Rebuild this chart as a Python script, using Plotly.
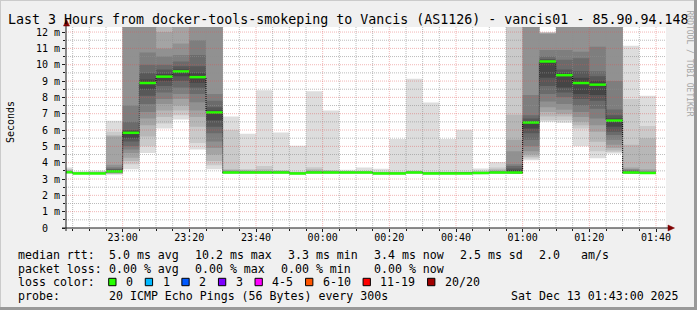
import plotly.graph_objects as go
from datetime import datetime, timedelta

# ---------------- data ----------------
bin_times = ["22:40", "22:45", "22:50", "22:55", "23:00", "23:05", "23:10", "23:15", "23:20",
             "23:25", "23:30", "23:35", "23:40", "23:45", "23:50", "23:55", "00:00", "00:05",
             "00:10", "00:15", "00:20", "00:25", "00:30", "00:35", "00:40", "00:45", "00:50",
             "00:55", "01:00", "01:05", "01:10", "01:15", "01:20", "01:25", "01:30", "01:35"]

median_ms = [3.42, 3.34, 3.34, 3.47, 5.83, 8.88, 9.27, 9.59, 9.24,
             7.08, 3.40, 3.40, 3.40, 3.40, 3.34, 3.40, 3.40, 3.40,
             3.40, 3.34, 3.34, 3.40, 3.34, 3.34, 3.34, 3.37, 3.40,
             3.40, 6.46, 10.20, 9.36, 8.88, 8.78, 6.58, 3.40, 3.37]

# 20 sorted ping round-trip times per 5-minute step (ms)
pings_ms = [
    [3.33, 3.35, 3.37, 3.38, 3.39, 3.40, 3.40, 3.41, 3.41, 3.42, 3.42, 3.43, 3.44, 3.45, 3.46, 3.48, 3.50, 3.55, 3.62, 3.70],
    [3.28, 3.29, 3.30, 3.31, 3.31, 3.32, 3.32, 3.33, 3.33, 3.34, 3.34, 3.35, 3.35, 3.36, 3.37, 3.38, 3.39, 3.41, 3.43, 3.46],
    [3.28, 3.29, 3.30, 3.31, 3.31, 3.32, 3.32, 3.33, 3.33, 3.34, 3.34, 3.35, 3.36, 3.37, 3.38, 3.40, 3.42, 3.44, 3.46, 3.52],
    [3.26, 3.30, 3.33, 3.36, 3.38, 3.40, 3.42, 3.44, 3.45, 3.46, 3.48, 3.53, 3.58, 3.63, 3.72, 3.88, 5.60, 5.68, 5.90, 6.57],
    [3.60, 3.90, 4.10, 4.30, 4.60, 4.80, 5.00, 5.30, 5.50, 5.80, 5.88, 5.95, 6.00, 6.50, 7.50, 13.0, 14.0, 15.0, 17.0, 20.0],
    [4.60, 5.00, 5.60, 6.30, 6.70, 7.10, 7.60, 8.10, 8.50, 8.85, 8.92, 9.10, 9.50, 10.00, 10.75, 12.5, 13.5, 14.5, 16.0, 19.0],
    [6.10, 6.40, 6.80, 7.20, 7.60, 7.90, 8.30, 8.70, 9.00, 9.24, 9.30, 9.45, 9.70, 10.00, 10.50, 11.00, 12.00, 12.6, 14.0, 17.0],
    [6.65, 6.90, 7.20, 7.50, 7.90, 8.20, 8.60, 9.00, 9.30, 9.56, 9.62, 9.70, 9.90, 10.20, 10.60, 11.30, 12.6, 13.5, 15.0, 18.0],
    [4.80, 5.20, 6.20, 6.80, 7.20, 7.70, 8.20, 8.60, 8.90, 9.22, 9.28, 9.50, 9.90, 10.60, 11.50, 12.6, 13.5, 14.5, 16.0, 19.0],
    [3.60, 3.85, 4.10, 4.50, 4.90, 5.30, 5.80, 6.20, 6.60, 7.05, 7.12, 7.20, 7.40, 7.80, 8.20, 12.6, 13.5, 14.5, 16.0, 19.0],
    [3.32, 3.34, 3.35, 3.36, 3.37, 3.38, 3.39, 3.39, 3.40, 3.40, 3.41, 3.42, 3.43, 3.45, 3.47, 3.50, 3.55, 3.60, 6.00, 6.83],
    [3.32, 3.34, 3.35, 3.36, 3.37, 3.38, 3.39, 3.39, 3.40, 3.40, 3.41, 3.42, 3.43, 3.44, 3.46, 3.48, 3.50, 3.55, 3.62, 5.77],
    [3.32, 3.34, 3.35, 3.36, 3.37, 3.38, 3.39, 3.39, 3.40, 3.40, 3.41, 3.42, 3.43, 3.44, 3.46, 3.48, 3.52, 3.60, 3.80, 8.43],
    [3.32, 3.34, 3.35, 3.36, 3.37, 3.38, 3.39, 3.39, 3.40, 3.40, 3.41, 3.42, 3.43, 3.44, 3.45, 3.47, 3.49, 3.52, 3.55, 5.85],
    [3.27, 3.28, 3.29, 3.30, 3.31, 3.32, 3.33, 3.33, 3.34, 3.34, 3.35, 3.35, 3.36, 3.37, 3.38, 3.39, 3.40, 3.42, 3.45, 5.04],
    [3.32, 3.34, 3.35, 3.36, 3.37, 3.38, 3.39, 3.39, 3.40, 3.40, 3.41, 3.42, 3.43, 3.44, 3.46, 3.48, 3.52, 3.60, 3.72, 8.37],
    [3.32, 3.34, 3.35, 3.36, 3.37, 3.38, 3.39, 3.39, 3.40, 3.40, 3.41, 3.42, 3.43, 3.44, 3.45, 3.47, 3.49, 3.52, 3.55, 7.20],
    [3.32, 3.34, 3.35, 3.36, 3.37, 3.38, 3.39, 3.39, 3.40, 3.40, 3.41, 3.41, 3.42, 3.42, 3.43, 3.44, 3.45, 3.46, 3.48, 3.57],
    [3.32, 3.34, 3.35, 3.36, 3.37, 3.38, 3.39, 3.39, 3.40, 3.40, 3.41, 3.41, 3.42, 3.42, 3.43, 3.44, 3.45, 3.47, 3.50, 3.70],
    [3.27, 3.28, 3.29, 3.30, 3.31, 3.32, 3.33, 3.33, 3.34, 3.34, 3.35, 3.35, 3.36, 3.37, 3.38, 3.39, 3.40, 3.42, 3.45, 3.63],
    [3.27, 3.28, 3.29, 3.30, 3.31, 3.32, 3.33, 3.33, 3.34, 3.34, 3.35, 3.35, 3.36, 3.37, 3.38, 3.39, 3.40, 3.42, 3.45, 5.45],
    [3.32, 3.34, 3.35, 3.36, 3.37, 3.38, 3.39, 3.39, 3.40, 3.40, 3.41, 3.41, 3.42, 3.43, 3.44, 3.45, 3.46, 3.48, 3.52, 9.14],
    [3.27, 3.28, 3.29, 3.30, 3.31, 3.32, 3.33, 3.33, 3.34, 3.34, 3.35, 3.35, 3.36, 3.37, 3.38, 3.39, 3.40, 3.42, 3.45, 7.69],
    [3.27, 3.28, 3.29, 3.30, 3.31, 3.32, 3.33, 3.33, 3.34, 3.34, 3.35, 3.35, 3.36, 3.37, 3.38, 3.39, 3.40, 3.42, 3.45, 5.45],
    [3.27, 3.28, 3.29, 3.30, 3.31, 3.32, 3.33, 3.33, 3.34, 3.34, 3.35, 3.35, 3.36, 3.37, 3.38, 3.39, 3.40, 3.42, 3.45, 6.02],
    [3.29, 3.30, 3.31, 3.32, 3.33, 3.34, 3.35, 3.36, 3.37, 3.37, 3.38, 3.38, 3.39, 3.40, 3.41, 3.42, 3.43, 3.45, 3.50, 3.65],
    [3.32, 3.34, 3.35, 3.36, 3.37, 3.38, 3.39, 3.39, 3.40, 3.40, 3.41, 3.42, 3.43, 3.44, 3.46, 3.48, 3.52, 3.60, 3.70, 4.04],
    [3.30, 3.31, 3.32, 3.33, 3.34, 3.35, 3.36, 3.37, 3.38, 3.39, 3.42, 3.55, 3.65, 3.80, 3.90, 4.70, 5.40, 6.94, 13.0, 16.0],
    [4.15, 4.25, 4.37, 4.50, 4.70, 5.00, 5.40, 5.80, 6.10, 6.44, 6.48, 6.55, 6.70, 6.90, 8.15, 12.6, 13.5, 14.5, 16.0, 19.0],
    [6.50, 6.60, 6.83, 7.10, 7.40, 7.75, 8.20, 8.70, 9.20, 10.18, 10.22, 10.25, 10.35, 10.50, 10.90, 11.90, 11.93, 11.96, 11.98, 12.00],
    [6.45, 6.60, 6.83, 7.00, 7.24, 7.60, 8.00, 8.30, 8.60, 9.34, 9.40, 9.50, 9.70, 10.30, 10.90, 12.6, 13.5, 14.5, 16.0, 19.0],
    [5.00, 6.10, 6.30, 6.50, 6.80, 7.10, 7.50, 7.90, 8.20, 8.85, 8.95, 9.20, 9.60, 10.40, 10.80, 12.6, 13.5, 14.5, 16.0, 19.0],
    [4.27, 4.70, 5.28, 5.90, 6.30, 6.70, 7.30, 7.80, 8.14, 8.75, 8.85, 9.00, 9.30, 9.60, 11.10, 12.6, 13.5, 14.5, 16.0, 19.0],
    [4.57, 4.65, 4.75, 4.90, 5.10, 5.40, 5.70, 5.90, 6.20, 6.55, 6.62, 6.70, 6.90, 7.25, 9.00, 12.6, 13.5, 14.5, 16.0, 19.0],
    [3.32, 3.33, 3.34, 3.35, 3.36, 3.37, 3.38, 3.39, 3.40, 3.40, 3.42, 3.45, 3.48, 3.52, 3.56, 3.62, 3.70, 5.10, 7.90, 11.16],
    [3.30, 3.31, 3.32, 3.33, 3.34, 3.35, 3.36, 3.36, 3.37, 3.37, 3.38, 3.39, 3.40, 3.42, 3.45, 3.50, 3.60, 5.50, 6.25, 8.10],
]

x_tick_labels = ["23:00", "23:20", "23:40", "00:00", "00:20", "00:40", "01:00", "01:20", "01:40"]
y_tick_values = [0, 1, 2, 3, 4, 5, 6, 7, 8, 9, 10, 11, 12]

loss_labels = ["0", "1", "2", "3", "4-5", "6-10", "11-19", "20/20"]
loss_colors = ["#26ff00", "#00b8ff", "#0059ff", "#7e00ff", "#ff00ff", "#ff5500", "#ff0000", "#a10000"]

title_text = "Last 3 Hours from docker-tools-smokeping to Vancis (AS1126) - vancis01 - 85.90.94.148"
rtt_row = ["median rtt:", "5.0 ms avg", "10.2 ms max", "3.3 ms min", "3.4 ms now", "2.5 ms sd", "2.0", "am/s"]
loss_row = ["packet loss:", "0.00 % avg", "0.00 % max", "0.00 % min", "0.00 % now"]
probe_row = ["probe:", "20 ICMP Echo Pings (56 Bytes) every 300s"]
date_text = "Sat Dec 13 01:43:00 2025"

# ---------------- geometry helpers ----------------
L, T, W, H = 66, 27, 600, 201
FIG_W, FIG_H = 697, 310
Y_MAX = 12.31
MONO = "DejaVu Sans Mono"


def px(xp):
    return (xp - L) / W


def py(yp):
    return (T + H - yp) / H


def to_dt(hhmm):
    h, m = map(int, hhmm.split(":"))
    return datetime(2025, 12, 12 if h >= 12 else 13, h, m)


STEP = timedelta(minutes=5)
starts = [to_dt(t) for t in bin_times]
x_start = datetime(2025, 12, 12, 22, 43)
x_end = datetime(2025, 12, 13, 1, 43)

fig = go.Figure()

# ---------------- smoke (SmokePing style layers) ----------------
half = 10
for ibot in range(1, half + 1):
    g = int(190 / half * (half - ibot)) + 50
    xs, lo, hi = [], [], []
    for s, p in zip(starts, pings_ms):
        xs += [s, s + STEP]
        lo += [p[ibot - 1]] * 2
        hi += [p[20 - ibot]] * 2
    fig.add_trace(go.Scatter(x=xs, y=lo, mode="lines", line=dict(width=0),
                             hoverinfo="skip", showlegend=False))
    fig.add_trace(go.Scatter(x=xs, y=hi, mode="lines", line=dict(width=0),
                             fill="tonexty", fillcolor=f"rgb({g},{g},{g})",
                             hoverinfo="skip", showlegend=False))

# ---------------- median line ----------------
xs, ys = [], []
for s, m in zip(starts, median_ms):
    xs += [s, s + STEP]
    ys += [m, m]
fig.add_trace(go.Scatter(x=xs, y=ys, mode="lines",
                         line=dict(color="black", width=1, dash="1px,1px"),
                         hoverinfo="skip", showlegend=False))
gx, gy = [], []
for s, m in zip(starts, median_ms):
    gx += [s, s + STEP, None]
    gy += [m, m, None]
fig.add_trace(go.Scatter(x=gx, y=gy, mode="lines",
                         line=dict(color=loss_colors[0], width=2.5),
                         hoverinfo="skip", showlegend=False))

shapes = []
GRID = "rgba(143,143,143,0.6)"
MGRID = "rgba(222,80,80,0.42)"
DASH = "1px,1px"

# ---------------- grid (drawn over the smoke, like rrdtool) ----------------
major_times = [to_dt(t) for t in x_tick_labels]
t = x_start + timedelta(minutes=2)
while t < x_end:
    if t.minute % 5 == 0:
        col = MGRID if t in major_times else GRID
        shapes.append(dict(type="line", xref="x", yref="paper", x0=t, x1=t, y0=0, y1=1,
                           line=dict(color=col, width=1, dash=DASH), layer="above"))
    t += timedelta(minutes=1)
for k in range(1, int(Y_MAX * 2) + 1):
    v = k / 2
    col = MGRID if k % 2 == 0 else GRID
    shapes.append(dict(type="line", xref="paper", yref="y", x0=0, x1=1, y0=v, y1=v,
                       line=dict(color=col, width=1, dash=DASH), layer="above"))

# ---------------- axes lines + arrows ----------------
AXIS = "#1a1a1a"
ARROW = "#7f0000"
shapes.append(dict(type="line", xref="paper", yref="paper", x0=px(62), x1=px(672), y0=0, y1=0,
                   line=dict(color=AXIS, width=1), layer="above"))
shapes.append(dict(type="line", xref="paper", yref="paper", x0=0, x1=0, y0=py(231), y1=py(24),
                   line=dict(color=AXIS, width=1), layer="above"))
shapes.append(dict(type="path", xref="paper", yref="paper",
                   path=f"M {px(63.5)} {py(26)} L {px(69.5)} {py(26)} L {px(66.5)} {py(19.5)} Z",
                   fillcolor=ARROW, line=dict(color=ARROW, width=0.5), layer="above"))
shapes.append(dict(type="path", xref="paper", yref="paper",
                   path=f"M {px(668)} {py(225)} L {px(668)} {py(231)} L {px(674.5)} {py(228)} Z",
                   fillcolor=ARROW, line=dict(color=ARROW, width=0.5), layer="above"))

# ---------------- frame ----------------
shapes.append(dict(type="line", xref="paper", yref="paper", x0=px(FIG_W - 1.5), x1=px(FIG_W - 1.5),
                   y0=py(0), y1=py(FIG_H), line=dict(color="#999999", width=3)))
shapes.append(dict(type="line", xref="paper", yref="paper", x0=px(0), x1=px(FIG_W),
                   y0=py(FIG_H - 1.5), y1=py(FIG_H - 1.5), line=dict(color="#999999", width=3)))
shapes.append(dict(type="line", xref="paper", yref="paper", x0=px(0.5), x1=px(0.5),
                   y0=py(0), y1=py(FIG_H - 3), line=dict(color="#cbcbcb", width=1)))
shapes.append(dict(type="line", xref="paper", yref="paper", x0=px(0), x1=px(FIG_W - 3),
                   y0=py(0.5), y1=py(0.5), line=dict(color="#cbcbcb", width=1)))

annotations = []


def text(xp, yp, s, size, anchor="left", color="black", angle=0):
    annotations.append(dict(x=px(xp), y=py(yp), xref="paper", yref="paper", text=s.replace(" ", "\u00a0"),
                            showarrow=False, xanchor=anchor, yanchor="middle", textangle=angle,
                            font=dict(family=MONO, size=size, color=color)))


# title
text(348, 19.5, title_text, 13.3, anchor="center")
# unit label
text(10.5, 122.5, "Seconds", 10, anchor="center", angle=-90)
# watermark
text(688.5, 63, "RRDTOOL / TOBI OETIKER", 8, anchor="center", color="#a6a6a6", angle=90)

# legend rows
LEG = 11.6
row_y = [254.8, 268.5, 282.1, 295.8]
for s, xp in zip(rtt_row, [16, 107.3, 193.3, 286, 372.3, 458.3, 537.3, 579.3]):
    text(xp, row_y[0], s, LEG)
for s, xp in zip(loss_row, [16, 107.3, 193.3, 279.3, 372.3]):
    text(xp, row_y[1], s, LEG)
text(16, row_y[2], "loss color:", LEG)
bx = 108.7
for lab, col in zip(loss_labels, loss_colors):
    shapes.append(dict(type="rect", xref="paper", yref="paper", x0=px(bx), x1=px(bx + 7.3),
                       y0=py(278.3), y1=py(285.7), fillcolor=col, line=dict(color="black", width=1)))
    text(bx + 15.3, row_y[2], lab, LEG)
    bx = bx + 15.3 + len(lab) * 6.98 + 14.3
for s, xp in zip(probe_row, [16, 107.3]):
    text(xp, row_y[3], s, LEG)
text(680.5, row_y[3], date_text, LEG, anchor="right")

fig.update_layout(
    width=FIG_W, height=FIG_H,
    margin=dict(l=L, r=FIG_W - L - W, t=T, b=FIG_H - T - H, pad=0),
    paper_bgcolor="#f0f0f0", plot_bgcolor="white",
    showlegend=False,
    shapes=shapes, annotations=annotations,
    xaxis=dict(type="date", range=[x_start, x_end], showgrid=False, zeroline=False, showline=False,
               tickmode="array", tickvals=major_times, ticktext=x_tick_labels,
               ticks="outside", ticklen=3, tickcolor=AXIS, tickwidth=1,
               ticklabelstandoff=-3,
               tickfont=dict(family=MONO, size=10, color="black"),
               minor=dict(ticks="outside", ticklen=2, tickcolor=AXIS, dtick=300000,
                          tick0=datetime(2025, 12, 12, 22, 45), showgrid=False),
               fixedrange=True),
    yaxis=dict(range=[0, Y_MAX], showgrid=False, zeroline=False, showline=False,
               tickmode="array", tickvals=y_tick_values,
               ticktext=[("0\u00a0\u00a0" if v == 0 else f"{v}\u00a0m") for v in y_tick_values],
               ticks="outside", ticklen=3, tickcolor=AXIS, tickwidth=1,
               tickfont=dict(family=MONO, size=10, color="black"),
               minor=dict(ticks="outside", ticklen=2, tickcolor=AXIS, dtick=0.5, showgrid=False),
               fixedrange=True),
)

fig.write_html("out.html")
